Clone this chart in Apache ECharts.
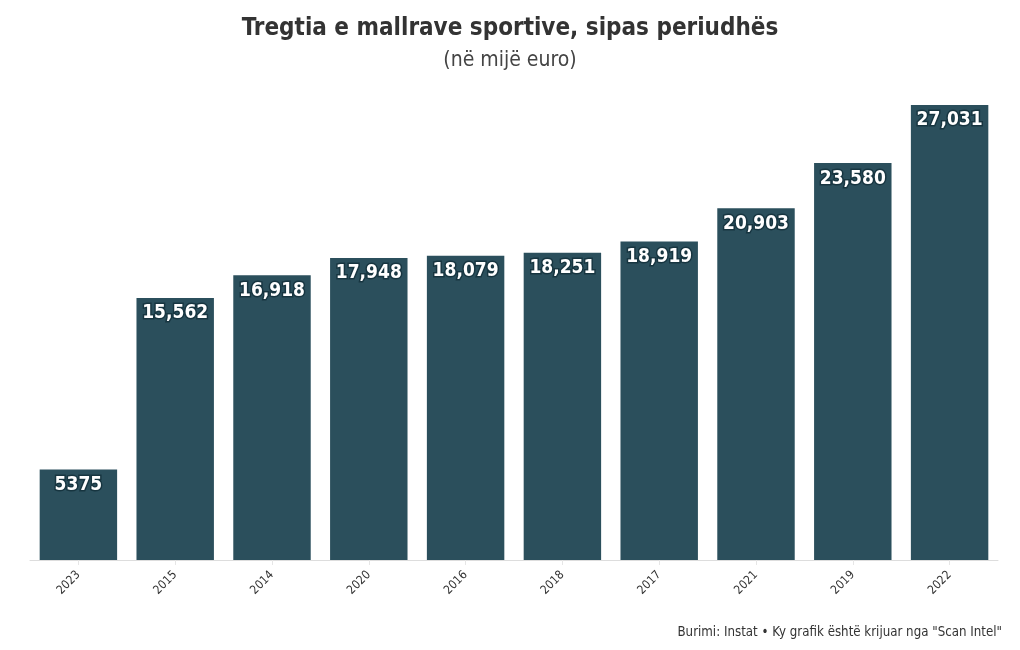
<!DOCTYPE html>
<html><head><meta charset="utf-8">
<script src="https://cdn.jsdelivr.net/npm/echarts@6/dist/echarts.min.js"></script>
<style>html,body{margin:0;padding:0;background:#fff}#c{width:1020px;height:650px}</style>
</head><body><div id="c"></div>
<script>
var categories = ['2023','2015','2014','2020','2016','2018','2017','2021','2019','2022'];
var values = [5375, 15562, 16918, 17948, 18079, 18251, 18919, 20903, 23580, 27031];
var labels = ['5375','15,562','16,918','17,948','18,079','18,251','18,919','20,903','23,580','27,031'];

var font = '"DejaVu Sans Condensed", "Liberation Sans Narrow", "Roboto", sans-serif';
var chart = echarts.init(document.getElementById('c'));
chart.setOption({
  animation: false,
  title: [{
    text: 'Tregtia e mallrave sportive, sipas periudhës',
    left: 'center', top: 12,
    textStyle: {fontFamily: font, fontWeight: 'bold', fontSize: 24, color: '#333'}
  },{
    text: '(në mijë euro)',
    left: 'center', top: 45,
    textStyle: {fontFamily: font, fontWeight: 'normal', fontSize: 21, color: '#444'}
  },{
    text: 'Burimi: Instat • Ky grafik është krijuar nga "Scan Intel"',
    right: 13, top: 621,
    textStyle: {fontFamily: font, fontWeight: 'normal', fontSize: 13.2, color: '#333'}
  }],
  grid: {left: 30, right: 22, top: 105, bottom: 90},
  xAxis: {
    type: 'category', data: categories,
    axisLine: {lineStyle: {color: '#ddd'}},
    axisTick: {show: true, alignWithLabel: true, lineStyle: {color: '#e6e6e6'}},
    axisLabel: {rotate: 45, fontFamily: font, fontSize: 12, color: '#333', margin: 13}
  },
  yAxis: {
    type: 'value', min: 0, max: 27031, show: false, splitLine: {show: false}
  },
  series: [{
    type: 'bar', data: values, barCategoryGap: '20%',
    itemStyle: {color: '#2b4f5c'},
    label: {
      show: true, position: 'insideTop', distance: 6,
      formatter: function(p){ return labels[p.dataIndex]; },
      fontFamily: font, fontWeight: 'bold', fontSize: 19, color: '#fff',
      textBorderColor: '#173540', textBorderWidth: 3
    }
  }]
});
</script></body></html>
